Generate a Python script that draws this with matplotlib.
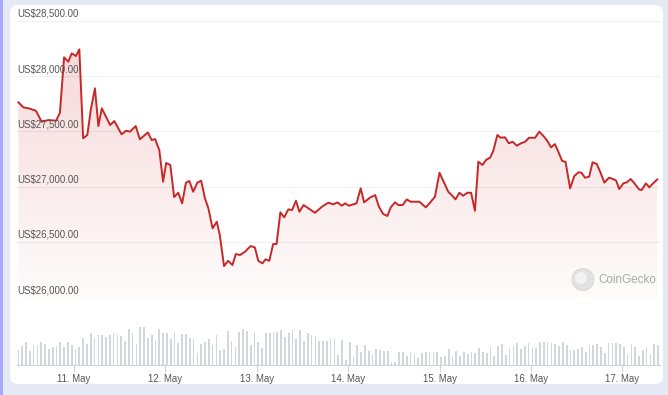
import numpy as np
import matplotlib.pyplot as plt
from matplotlib.patches import FancyBboxPatch, Rectangle, Circle
from matplotlib.transforms import IdentityTransform, blended_transform_factory

plt.rcParams['font.family'] = ['Liberation Sans', 'DejaVu Sans']

# hours counted from 10 May 00:00
price_hours = [
    9.4, 10.7, 12.4, 14.0, 15.5, 17.3, 19.3, 20.3, 21.4, 22.5, 23.4, 24.5, 25.4,
    26.4, 27.5, 28.4, 29.5, 30.4, 31.3, 33.5, 34.6, 36.5, 37.7, 38.7, 40.2, 41.3,
    43.4, 44.4, 45.3, 46.4, 47.4, 48.2, 49.3, 50.3, 51.4, 52.4, 53.4, 54.3, 55.3,
    56.4, 57.4, 58.4, 59.3, 60.4, 61.5, 62.3, 63.4, 64.5, 65.6, 66.5, 67.6, 68.9,
    70.4, 71.5, 72.4, 73.5, 74.3, 75.3, 76.3, 77.2, 78.2, 79.2, 80.3, 81.3, 82.3,
    83.2, 84.3, 87.3, 89.1, 90.8, 92.1, 93.2, 94.3, 95.2, 96.2, 98.2, 99.3, 100.2,
    101.7, 103.1, 104.1, 105.2, 106.3, 107.2, 108.3, 109.2, 110.3, 111.4, 112.4,
    114.7, 116.4, 117.5, 118.8, 120.0, 121.3, 122.3, 123.2, 124.2, 125.2, 126.2,
    127.3, 128.3, 129.3, 130.2, 131.3, 132.2, 133.3, 134.1, 135.2, 136.1, 137.2,
    138.2, 139.2, 140.3, 141.4, 142.5, 143.5, 145.1, 146.2, 147.3, 148.3, 149.3,
    150.3, 151.2, 152.2, 153.1, 154.3, 155.4, 156.5, 157.3, 158.2, 159.3, 160.2,
    161.3, 162.3, 163.3, 164.5, 165.6, 166.4, 167.2, 168.3, 169.2, 170.2, 171.2,
    172.4, 173.1, 174.2, 175.1, 176.1, 177.2,
]
price_usd = [
    27762, 27717, 27705, 27686, 27587, 27602, 27596, 27668, 28169, 28129, 28205,
    28181, 28241, 27437, 27467, 27693, 27889, 27548, 27708, 27557, 27593, 27473,
    27506, 27497, 27548, 27428, 27490, 27421, 27430, 27331, 27045, 27214, 27196,
    26906, 26945, 26849, 27036, 27051, 26954, 27036, 27054, 26894, 26804, 26623,
    26683, 26563, 26282, 26330, 26291, 26391, 26382, 26412, 26463, 26451, 26330,
    26307, 26343, 26330, 26481, 26481, 26768, 26723, 26795, 26789, 26873, 26773,
    26834, 26764, 26818, 26855, 26840, 26858, 26828, 26849, 26828, 26849, 26985,
    26858, 26900, 26924, 26818, 26753, 26735, 26813, 26858, 26834, 26834, 26885,
    26864, 26864, 26813, 26855, 26909, 27126, 27030, 26954, 26924, 26885, 26945,
    26918, 26945, 26945, 26782, 27225, 27196, 27241, 27262, 27322, 27467, 27442,
    27446, 27392, 27406, 27370, 27392, 27406, 27442, 27442, 27497, 27458, 27415,
    27355, 27385, 27316, 27232, 27225, 26985, 27096, 27130, 27126, 27081, 27090,
    27220, 27205, 27126, 27036, 27081, 27069, 27054, 26979, 27030, 27039, 27069,
    27030, 26976, 26969, 27030, 26994, 27030, 27066,
]

# hourly volume (relative), first bar at 10 May 09:24
vol_start_hour = 9.4
volumes = [
    15, 19, 23.3, 14.3, 20, 19, 23.3, 21, 15.7, 18.3,
    19, 22.7, 18.3, 22.7, 20, 15.7, 18.3, 26.7, 21, 31.7,
    26.7, 30, 30, 27.7, 30, 32.3, 30, 29.3, 24.3, 36,
    31.7, 21, 37.7, 37.7, 26.7, 30, 25, 35.7, 31.7, 31.7,
    26, 33.3, 21.7, 30.7, 30.7, 26.7, 26, 11.7, 20.7, 23.3,
    25.7, 20, 30, 15, 15.7, 34.3, 24.3, 17.7, 33.3, 35.7,
    34.3, 20, 32.7, 22.7, 16.7, 31.7, 31.7, 32.7, 33.3, 35,
    28.3, 31.7, 35, 25.7, 35, 24.3, 31.7, 30, 29, 24.3,
    24.3, 24.3, 26.7, 25.7, 10,
    25, 5, 23.3, 9, 20, 12.7, 20, 14.3, 10, 15.7,
    15, 14.3, 14.3, 3.3, 3.3, 13.3, 12.7, 9, 13.3, 11,
    6.7, 12.3, 13.3, 13.3, 13.3, 13.3, 7.7, 9, 15.7, 9,
    14.3, 9, 13.3, 11, 13.3, 11.7, 16.7, 12.7, 11.7, 17.7,
    9, 19, 21, 10, 16.7, 20, 22.3, 15.7, 19, 22.3,
    16.7, 16.7, 23, 23, 23.3, 22.3, 21, 19, 23.3, 20,
    15, 15, 15.7, 17.7, 13.3, 20, 20, 21, 18.3, 12.3,
    21.7, 21.7, 21.7, 21, 18.3, 10, 21, 18.3, 9, 15,
    17.7, 11, 21, 20,
]

day_ticks = [24, 48, 72, 96, 120, 144, 168]
day_labels = ['11. May', '12. May', '13. May', '14. May', '15. May', '16. May', '17. May']
price_ticks = [26000, 26500, 27000, 27500, 28000, 28500]
price_labels = ['US$26,000.00', 'US$26,500.00', 'US$27,000.00',
                'US$27,500.00', 'US$28,000.00', 'US$28,500.00']

W, H = 668, 395
fig = plt.figure(figsize=(W / 100, H / 100), dpi=100, facecolor='#e4e9f4')

# card + left strip (behind the axes)
fig.add_artist(Rectangle((0, 0), 2.5, H, transform=IdentityTransform(),
                         fc='#a6a9f6', ec='none', zorder=-2))
fig.add_artist(FancyBboxPatch((10, H - 384), 653, 379,
                              boxstyle='round,pad=0,rounding_size=8',
                              transform=IdentityTransform(), fc='white', ec='none',
                              zorder=-2))

xlim = (9.03, 177.91)
left, width = 17 / W, 643 / W

# price panel
ax = fig.add_axes([left, 1 - 297.3 / H, width, (297.3 - 20.7) / H])
ax.set_facecolor('none')
ax.set_xlim(xlim)
ax.set_ylim(26000, 28500)
for s in ax.spines.values():
    s.set_visible(False)
ax.set_xticks([])
ax.set_yticks([])

trans = blended_transform_factory(ax.transAxes, ax.transData)
for val, lab in zip(price_ticks, price_labels):
    ax.axhline(val, color='#eef0f3', lw=0.8, zorder=0)
    ax.text(0, val + 18, lab, transform=trans, ha='left', va='bottom',
            fontsize=6.9, color='#555555', zorder=5)

# gradient fill under the line
poly = ax.fill_between(price_hours, price_usd, 26000, facecolor='none', edgecolor='none')
alpha = np.linspace(0.02, 0.2, 256)
grad = np.zeros((256, 1, 4))
grad[:, 0, 0] = 0.83
grad[:, 0, 1] = 0.18
grad[:, 0, 2] = 0.18
grad[:, 0, 3] = alpha
im = ax.imshow(grad, extent=[xlim[0], xlim[1], 26000, 28500], origin='lower',
               aspect='auto', zorder=1, interpolation='bilinear')
im.set_clip_path(poly.get_paths()[0], ax.transData)

ax.plot(price_hours, price_usd, color='#c62828', lw=1.4, zorder=3,
        solid_joinstyle='round')

# watermark
fig.add_artist(Circle((583, H - 279.5), 11, transform=IdentityTransform(),
                      fc='#e2e2e2', ec='#d6d6d6', lw=0.6, zorder=5))
fig.add_artist(Circle((581, H - 278), 6, transform=IdentityTransform(),
                      fc='#f2f2f2', ec='none', zorder=5))
fig.text(598 / W, 1 - 280 / H, 'CoinGecko', ha='left', va='center',
         fontsize=8.4, color='#aaaaaa', zorder=5)

# volume panel
vax = fig.add_axes([left, 1 - 365 / H, width, 40 / H])
vax.set_facecolor('none')
vax.set_xlim(xlim)
vax.set_ylim(0, 40)
vol_hours = vol_start_hour + np.arange(len(volumes))
vax.bar(vol_hours, volumes, width=0.45, color='#d3d6dc', zorder=2)
for k in ['top', 'right', 'left']:
    vax.spines[k].set_visible(False)
vax.spines['bottom'].set_color('#cfd3da')
vax.spines['bottom'].set_linewidth(0.8)
vax.set_yticks([])
vax.set_xticks(day_ticks)
vax.set_xticklabels(day_labels)
vax.tick_params(axis='x', length=5, width=0.8, color='#cfd3da',
                labelcolor='#555555', labelsize=6.9, pad=1.5)

fig.savefig('out.png', dpi=100, facecolor=fig.get_facecolor())
